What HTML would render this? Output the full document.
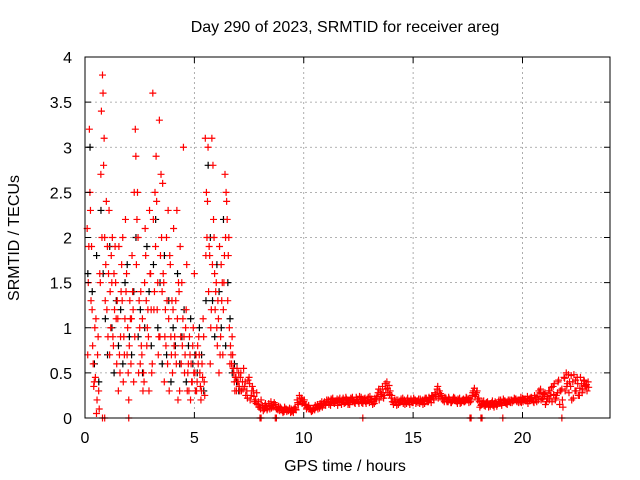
<!DOCTYPE html>
<html><head><meta charset="utf-8"><style>
body{margin:0;background:#fff}
svg{display:block;font-family:"Liberation Sans",sans-serif}
</style></head><body>
<svg id="chart" width="640" height="480" viewBox="0 0 640 480" xmlns="http://www.w3.org/2000/svg">
<text x="345" y="32" font-size="16" text-anchor="middle">Day 290 of 2023, SRMTID for receiver areg</text>
<text x="345" y="471" font-size="16" text-anchor="middle">GPS time / hours</text>
<text transform="translate(19,238) rotate(-90)" font-size="16" text-anchor="middle">SRMTID / TECUs</text>
<g id="grid"></g><g id="pts"></g>
<rect x="85" y="57" width="525" height="361" fill="none" stroke="#000" stroke-width="1"/>
<g id="ticks"></g>
</svg>
<script>
const xTicks=[0,5,10,15,20];
const yTicks=[0,0.5,1,1.5,2,2.5,3,3.5,4];
const yTickLabels=["0","0.5","1","1.5","2","2.5","3","3.5","4"];
const t1=[0.1,0.2,0.3,0.4,0.5,0.6,0.7,0.8,0.9,1.0,1.1,1.2,1.3,1.4,1.5,1.6,1.7,1.8,1.9,2.0,2.1,2.2,2.3,2.4,2.5,2.6,2.7,2.8,2.9,3.0,3.1,3.2,3.3,3.4,3.5,3.6,3.7,3.8,3.9,4.0,4.1,4.2,4.3,4.4,4.5,4.6,4.7,4.8,4.9,5.0,5.1,5.2,5.3,5.4,5.5,5.6,5.7,5.8,5.9,6.0,6.1,6.2,6.3,6.4,6.5,6.6,6.7,6.8,6.9,7.0];
const redA=[2.1,3.2,1.9,0.35,1.1,0.9,1.5,3.8,2.0,1.2,2.3,1.8,0.8,1.5,1.1,0.5,1.3,0.7,1.6,0.2,0.6,1.2,3.2,2.5,1.0,0.7,0.4,1.3,0.9,1.6,3.6,2.5,1.2,3.3,2.0,1.5,0.8,2.3,1.7,0.5,0.9,2.3,1.4,0.6,3.0,1.0,0.5,0.7,0.4,1.6,0.3,0.9,0.2,1.1,3.1,2.4,1.8,3.1,2.0,1.5,1.1,0.9,0.7,2.7,2.2,1.0,0.6,0.5,0.45,0.4];
const redB=[1.5,2.3,0.8,1.0,0.2,0.1,3.4,2.8,1.7,0.9,1.4,2.0,1.2,0.6,1.9,1.4,0.4,2.2,1.0,1.3,1.8,2.5,1.7,0.5,1.4,0.3,2.1,1.0,2.3,0.5,1.2,2.9,0.7,1.8,2.6,0.9,1.3,0.3,0.7,2.1,1.3,0.2,1.9,0.8,0.5,1.7,0.3,0.6,1.0,0.3,0.8,0.5,0.6,0.4,2.5,1.4,1.0,2.8,1.2,0.8,1.9,1.3,1.5,2.5,1.8,0.8,0.7,0.3,0.55,0.35];
const redC=[0.7,2.5,1.2,0.4,0.05,0.3,2.7,3.6,1.3,1.9,0.7,1.5,1.6,1.1,0.3,0.9,2.0,1.1,0.7,0.8,1.1,0.4,2.9,2.0,0.6,1.1,1.5,0.8,0.3,1.2,2.2,1.9,1.5,0.9,1.4,0.4,2.0,1.1,0.9,1.2,0.7,1.1,0.3,1.5,0.9,1.2,0.6,0.2,0.8,0.5,0.4,0.7,0.3,0.9,1.8,3.0,0.6,1.7,1.6,1.0,0.5,1.7,1.2,2.0,1.3,0.6,0.9,0.4,0.3,0.5];
const redF=[1.9,1.3,0.6,0.45,0.7,1.6,2.0,3.1,2.4,1.6,1.0,0.9,1.9,1.3,0.7,1.7,0.9,1.4,0.5,1.1,1.4,0.9,2.2,1.3,0.8,0.5,1.8,1.2,1.6,0.6,1.4,2.4,0.9,2.7,1.6,1.2,0.6,1.8,1.3,0.8,0.6,1.5,0.9,1.1,0.7,0.3,0.9,0.4,0.5,0.7,0.6,0.35,0.45,0.25,2.0,1.9,1.2,2.2,1.4,1.3,0.7,1.5,1.8,2.4,2.0,0.7,0.55,0.45,0.4,0.3];
const blackA=[1.6,3.0,1.4,0.6,1.8,0.4,2.3,1.6,1.1,0.7,1.9,1.0,0.5,1.3,0.8,1.2,0.6,1.5,1.7,0.9,0.7,1.4,2.0,0.9,1.2,0.5,1.0,1.9,1.4,0.8,1.7,2.2,1.0,1.5,0.6,1.8,0.7,1.3,0.4,1.0,0.8,1.6,0.6,0.9,1.2,0.4,0.8,1.1,0.6,0.7,0.5,1.0,0.7,0.3,1.3,2.8,2.0,1.3,0.9,1.7,1.4,1.0,2.2,0.8,1.5,1.1,0.5,0.6,0.4,0.3];
const t2=[7.1,7.2,7.3,7.4,7.5,7.6,7.7,7.8,7.9,8.0,8.1,8.2,8.3,8.4,8.5,8.6,8.7,8.8,8.9,9.0,9.1,9.2,9.3,9.4,9.5,9.6,9.7,9.8,9.9,10.0,10.1,10.2,10.3,10.4,10.5,10.6,10.7,10.8,10.9,11.0,11.1,11.2,11.3,11.4,11.5,11.6,11.7,11.8,11.9,12.0,12.1,12.2,12.3,12.4,12.5,12.6,12.7,12.8,12.9,13.0,13.1,13.2,13.3,13.4,13.5,13.6,13.7,13.8,13.9,14.0,14.1,14.2,14.3,14.4,14.5,14.6,14.7,14.8,14.9,15.0,15.1,15.2,15.3,15.4,15.5,15.6,15.7,15.8,15.9,16.0,16.1,16.2,16.3,16.4,16.5,16.6,16.7,16.8,16.9,17.0,17.1,17.2,17.3,17.4,17.5,17.6,17.7,17.8,17.9,18.0,18.1,18.2,18.3,18.4,18.5,18.6,18.7,18.8,18.9,19.0,19.1,19.2,19.3,19.4,19.5,19.6,19.7,19.8,19.9,20.0,20.1,20.2,20.3,20.4,20.5,20.6,20.7,20.8,20.9,21.0,21.1,21.2,21.3,21.4,21.5,21.6,21.7,21.8,21.9,22.0,22.1,22.2,22.3,22.4,22.5,22.6,22.7,22.8,22.9,23.0];
const redD=[0.45,0.4,0.35,0.3,0.45,0.25,0.3,0.2,0.15,0.12,0.14,0.1,0.13,0.16,0.18,0.12,0.15,0.1,0.08,0.09,0.07,0.1,0.08,0.06,0.08,0.12,0.2,0.25,0.22,0.18,0.15,0.12,0.1,0.08,0.09,0.12,0.13,0.15,0.16,0.14,0.18,0.17,0.2,0.16,0.19,0.2,0.18,0.22,0.17,0.2,0.15,0.21,0.19,0.23,0.18,0.2,0.16,0.22,0.19,0.17,0.21,0.18,0.2,0.28,0.3,0.35,0.25,0.4,0.36,0.22,0.15,0.18,0.2,0.17,0.19,0.2,0.16,0.18,0.21,0.17,0.2,0.19,0.16,0.18,0.2,0.22,0.18,0.21,0.24,0.28,0.32,0.3,0.25,0.2,0.22,0.18,0.2,0.19,0.22,0.18,0.2,0.17,0.21,0.19,0.2,0.22,0.25,0.33,0.28,0.22,0.14,0.16,0.13,0.18,0.15,0.17,0.12,0.16,0.18,0.2,0.17,0.19,0.15,0.18,0.2,0.19,0.21,0.2,0.18,0.22,0.2,0.19,0.21,0.23,0.18,0.2,0.24,0.28,0.22,0.26,0.18,0.3,0.25,0.35,0.2,0.28,0.15,0.32,0.45,0.5,0.48,0.35,0.4,0.3,0.45,0.25,0.38,0.42,0.35,0.4];
const redE=[0.3,0.55,0.25,0.42,0.2,0.35,0.18,0.28,0.12,0.2,0.08,0.16,0.11,0.1,0.14,0.17,0.1,0.13,0.11,0.06,0.1,0.09,0.11,0.07,0.1,0.09,0.15,0.18,0.2,0.14,0.12,0.1,0.07,0.11,0.12,0.1,0.16,0.12,0.18,0.2,0.15,0.21,0.17,0.19,0.14,0.22,0.2,0.16,0.21,0.17,0.22,0.18,0.16,0.2,0.24,0.17,0.21,0.16,0.23,0.2,0.15,0.22,0.24,0.2,0.26,0.22,0.32,0.28,0.3,0.18,0.2,0.14,0.17,0.21,0.16,0.18,0.22,0.15,0.17,0.2,0.18,0.21,0.19,0.15,0.22,0.18,0.2,0.25,0.2,0.24,0.22,0.27,0.2,0.23,0.18,0.21,0.17,0.23,0.19,0.21,0.16,0.2,0.18,0.22,0.17,0.2,0.3,0.26,0.2,0.12,0.18,0.14,0.17,0.12,0.16,0.14,0.18,0.15,0.17,0.14,0.19,0.16,0.2,0.17,0.19,0.21,0.18,0.2,0.17,0.21,0.19,0.16,0.22,0.2,0.25,0.18,0.3,0.2,0.27,0.15,0.22,0.3,0.18,0.38,0.25,0.42,0.3,0.12,0.3,0.38,0.4,0.2,0.48,0.3,0.25,0.45,0.32,0.36,0.3];
const redG=[0.5,0.32,0.4,0.22,0.38,0.3,0.24,0.16,0.18,0.1,0.12,0.14,0.09,0.13,0.11,0.15,0.12,0.09,0.12,0.08,0.12,0.07,0.09,0.1,0.06,0.1,0.17,0.22,0.16,0.2,0.1,0.14,0.09,0.1,0.14,0.15,0.11,0.18,0.14,0.17,0.2,0.14,0.22,0.18,0.21,0.17,0.15,0.2,0.23,0.15,0.19,0.23,0.17,0.21,0.16,0.23,0.19,0.18,0.21,0.24,0.18,0.16,0.22,0.32,0.24,0.28,0.38,0.33,0.26,0.25,0.17,0.2,0.15,0.19,0.22,0.15,0.2,0.17,0.19,0.22,0.16,0.17,0.21,0.2,0.16,0.19,0.23,0.17,0.22,0.26,0.35,0.24,0.22,0.18,0.2,0.23,0.17,0.21,0.2,0.16,0.22,0.19,0.18,0.23,0.21,0.18,0.28,0.24,0.3,0.18,0.15,0.19,0.15,0.16,0.13,0.19,0.16,0.13,0.2,0.16,0.21,0.17,0.18,0.2,0.17,0.22,0.19,0.17,0.23,0.18,0.21,0.24,0.19,0.22,0.17,0.23,0.2,0.32,0.21,0.28,0.24,0.2,0.34,0.26,0.22,0.4,0.3,0.2,0.44,0.35,0.28,0.47,0.22,0.42,0.38,0.33,0.28,0.41,0.37,0.34];
const zeroT=[0.8,0.9,2.0,8.0,8.05,8.7,8.75,12.7,17.6,17.65,18.1,18.15,19.1,21.8];
const X=v=>85+v*525/24, Y=v=>418-v*361/4;
const NS="http://www.w3.org/2000/svg";
const grid=document.getElementById('grid'),ticks=document.getElementById('ticks'),pts=document.getElementById('pts');
function mk(tag,attrs,parent){const e=document.createElementNS(NS,tag);for(const k in attrs)e.setAttribute(k,attrs[k]);parent.appendChild(e);return e;}
xTicks.forEach(v=>{const x=X(v);
 if(v>0){const g=mk('line',{x1:x,y1:57,x2:x,y2:418,stroke:'#999','stroke-dasharray':'2,3','stroke-width':0.8},grid);
 
 }
 mk('line',{x1:x,y1:418,x2:x,y2:412,stroke:'#000'},ticks);mk('line',{x1:x,y1:57,x2:x,y2:63,stroke:'#000'},ticks);
 const t=mk('text',{x:x,y:443,'font-size':16,'text-anchor':'middle'},ticks);t.textContent=v;
 
 });
yTicks.forEach((v,i)=>{const y=Y(v);
 if(v>0&&v<4){const g=mk('line',{x1:85,y1:y,x2:610,y2:y,stroke:'#999','stroke-dasharray':'2,3','stroke-width':0.8},grid);
 
 }
 mk('line',{x1:85,y1:y,x2:91,y2:y,stroke:'#000'},ticks);mk('line',{x1:610,y1:y,x2:604,y2:y,stroke:'#000'},ticks);
 const t=mk('text',{x:72,y:y+6,'font-size':16,'text-anchor':'end'},ticks);t.textContent=yTickLabels[i];
 
 });
function plus(t,v,c,name){const x=X(t),y=Y(v);
 const p=mk('path',{d:`M${x-3.5},${y}h7M${x},${y-3.5}v7`,stroke:c,'stroke-width':1.2,fill:'none'},pts);
 
 }
t1.forEach((t,i)=>plus(t+0.03,blackA[i],'#000','black-point'));
t1.forEach((t,i)=>{plus(t,redA[i],'#f00','red-point');plus(t+0.05,redB[i],'#f00','red-point');plus(t+0.025,redC[i],'#f00','red-point');plus(t+0.075,redF[i],'#f00','red-point');});
t2.forEach((t,i)=>{plus(t,redD[i],'#f00','red-point');plus(t+0.05,redE[i],'#f00','red-point');plus(t+0.025,redG[i],'#f00','red-point');});
zeroT.forEach(t=>plus(t,0,'#f00','red-zero-point'));
</script>
</body></html>
